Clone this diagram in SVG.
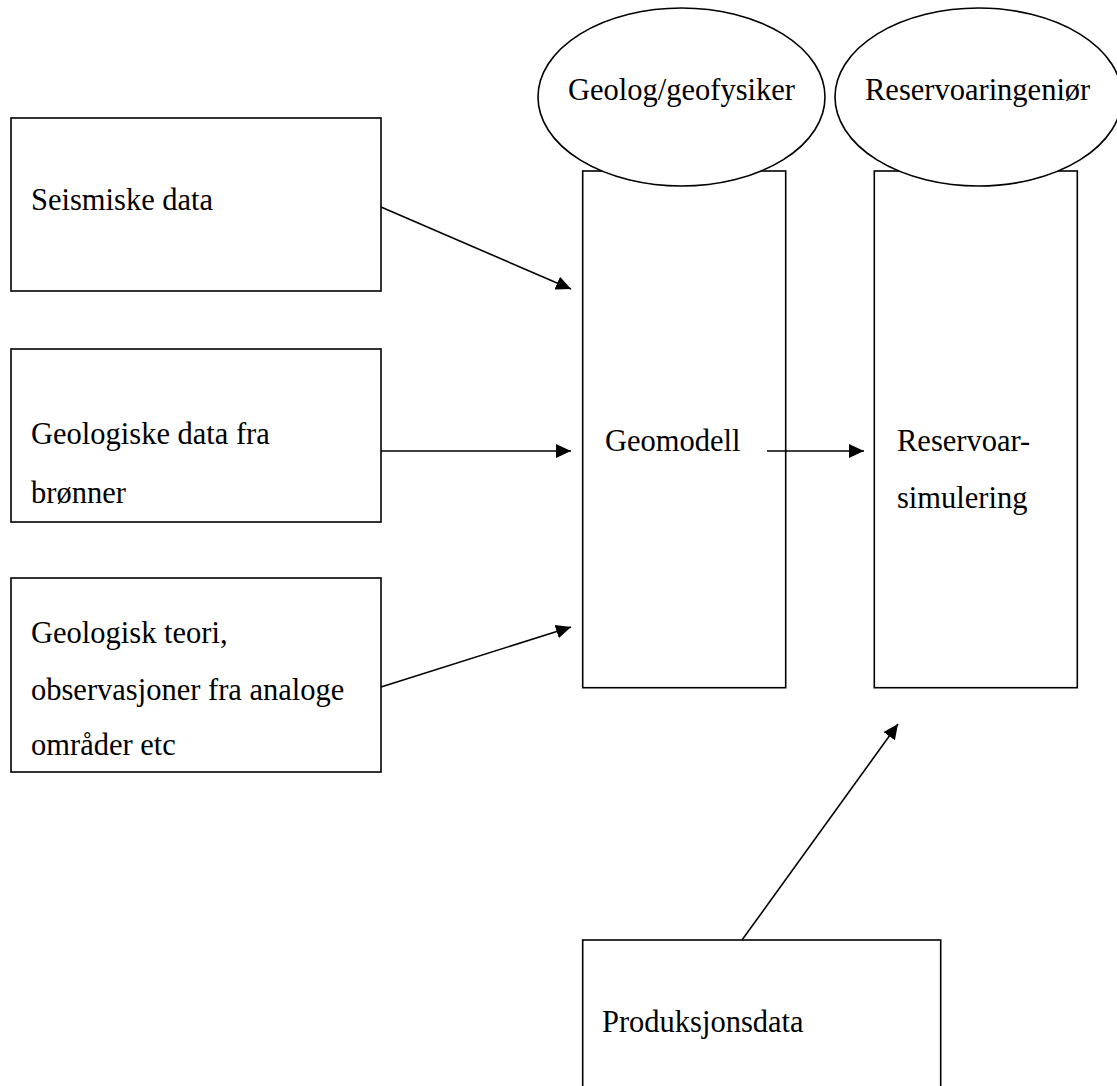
<svg xmlns="http://www.w3.org/2000/svg" width="1117" height="1086" viewBox="0 0 1117 1086">
<defs>
<style>
.box{fill:#fff;stroke:#000;stroke-width:1.6}
.ell{fill:#fff;stroke:#000;stroke-width:1.6}
.t{font-family:"Liberation Serif","Times New Roman",serif;font-size:30.5px;fill:#000}
.c{stroke:#000;stroke-width:1.6;fill:none}
</style>
<marker id="ah" viewBox="0 0 15 14" refX="15" refY="7" markerWidth="15" markerHeight="14" markerUnits="userSpaceOnUse" orient="auto">
<path d="M0,0 L15,7 L0,14 z" fill="#000"/>
</marker>
</defs>
<rect width="1117" height="1086" fill="#fff"/>
<g id="seismiske">
<rect class="box" x="11" y="118" width="370" height="173"/>
<text class="t" x="31" y="210">Seismiske data</text>
</g>
<g id="geologiske">
<rect class="box" x="11" y="349" width="370" height="173"/>
<text class="t" x="31" y="444">Geologiske data fra</text>
<text class="t" x="31" y="503">brønner</text>
</g>
<g id="teori">
<rect class="box" x="11" y="578" width="370" height="194"/>
<text class="t" x="31" y="643">Geologisk teori,</text>
<text class="t" x="31" y="700">observasjoner fra analoge</text>
<text class="t" x="31" y="755">områder etc</text>
</g>
<g id="geomodell">
<rect class="box" x="582.7" y="171" width="203" height="516.7"/>
<text class="t" x="605" y="451">Geomodell</text>
</g>
<g id="reservoarsim">
<rect class="box" x="874.3" y="171" width="203" height="516.7"/>
<text class="t" x="897" y="451">Reservoar-</text>
<text class="t" x="897" y="508">simulering</text>
</g>
<g id="produksjon">
<rect class="box" x="582.7" y="940" width="358" height="170"/>
<text class="t" x="602" y="1032">Produksjonsdata</text>
</g>
<g id="geolog">
<ellipse class="ell" cx="681.5" cy="97" rx="143.5" ry="89"/>
<text class="t" x="568" y="100">Geolog/geofysiker</text>
</g>
<g id="reservoaringenior">
<ellipse class="ell" cx="978.5" cy="97" rx="143.5" ry="89"/>
<text class="t" x="865" y="100">Reservoaringeniør</text>
</g>
<g id="connectors">
<line class="c" x1="381" y1="207" x2="571" y2="289" marker-end="url(#ah)"/>
<line class="c" x1="381" y1="451" x2="571" y2="451" marker-end="url(#ah)"/>
<line class="c" x1="381" y1="687" x2="571" y2="627" marker-end="url(#ah)"/>
<line class="c" x1="767" y1="451" x2="864" y2="451" marker-end="url(#ah)"/>
<line class="c" x1="742" y1="940" x2="898" y2="724" marker-end="url(#ah)"/>
</g>
</svg>
